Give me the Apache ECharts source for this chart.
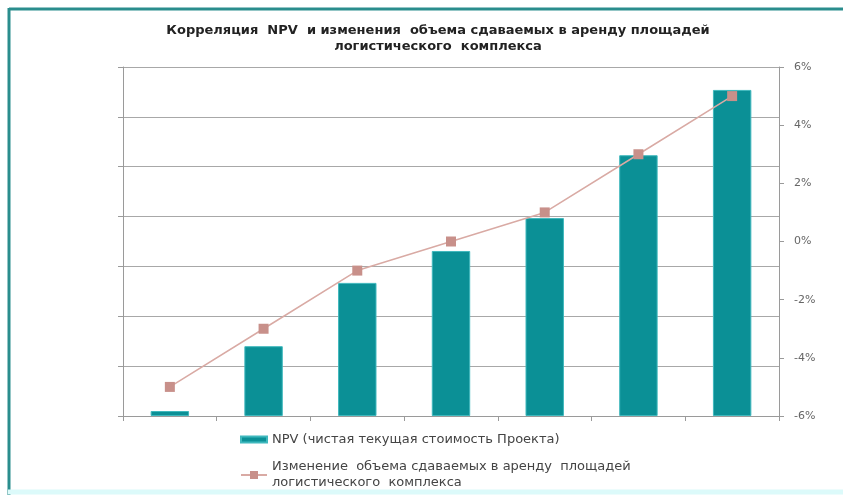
<!DOCTYPE html>
<html>
<head>
<meta charset="utf-8">
<script src="https://cdn.jsdelivr.net/npm/echarts@6/dist/echarts.min.js"></script>
<style>
html,body{margin:0;padding:0;background:#fff;}
#c{width:843px;height:495px;}
</style>
</head>
<body>
<div id="c"></div>
<script>
const categories = ['1', '2', '3', '4', '5', '6', '7'];
const npvValues = [0.1, 1.4, 2.67, 3.31, 3.97, 5.23, 6.54];
const areaChange = [-5, -3, -1, 0, 1, 3, 5];
const npvName = 'NPV (чистая текущая стоимость Проекта)';
const lineName = 'Изменение  объема сдаваемых в аренду  площадей\nлогистического  комплекса';
const titleText = 'Корреляция  NPV  и изменения  объема сдаваемых в аренду площадей\nлогистического  комплекса';

const chart = echarts.init(document.getElementById('c'));
chart.setOption({
  animation: false,
  backgroundColor: '#ffffff',
  textStyle: { fontFamily: 'DejaVu Sans' },
  title: {
    text: titleText,
    left: 433,
    textAlign: 'center',
    top: 18,
    textStyle: { fontSize: 13, fontWeight: 'bold', color: '#222', lineHeight: 16, fontFamily: 'DejaVu Sans' }
  },
  grid: { left: 123, right: 64, top: 67, bottom: 79 },
  legend: [
    {
      orient: 'vertical', left: 235, top: 428,
      data: [{ name: npvName, icon: 'rect' }],
      itemWidth: 26, itemHeight: 6, itemGap: 10,
      textStyle: { fontSize: 13, color: '#444', fontFamily: 'DejaVu Sans' }
    },
    {
      orient: 'vertical', left: 235, top: 454,
      data: [{ name: lineName }],
      itemWidth: 26, itemHeight: 10,
      textStyle: { fontSize: 13, color: '#444', lineHeight: 16, fontFamily: 'DejaVu Sans' }
    }
  ],
  xAxis: {
    type: 'category',
    data: categories,
    boundaryGap: true,
    axisLine: { lineStyle: { color: '#9a9a9a' } },
    axisTick: { show: true, alignWithLabel: false, length: 5, lineStyle: { color: '#9a9a9a' } },
    axisLabel: { show: false }
  },
  yAxis: [
    {
      type: 'value', min: 0, max: 7, interval: 1,
      position: 'left',
      axisLine: { show: true, lineStyle: { color: '#9a9a9a' } },
      axisTick: { show: true, length: 5, lineStyle: { color: '#9a9a9a' } },
      axisLabel: { show: false },
      splitLine: { show: true, lineStyle: { color: '#a8a8a8', width: 1 } }
    },
    {
      type: 'value', min: -6, max: 6, interval: 2,
      position: 'right',
      axisLine: { show: true, lineStyle: { color: '#9a9a9a' } },
      axisTick: { show: true, inside: false, length: 5, lineStyle: { color: '#9a9a9a' } },
      axisLabel: { formatter: '{value}%', color: '#666', fontSize: 11, margin: 15, fontFamily: 'DejaVu Sans' },
      splitLine: { show: false }
    }
  ],
  series: [
    {
      name: npvName,
      type: 'bar',
      yAxisIndex: 0,
      data: npvValues,
      barWidth: '41%',
      itemStyle: { color: '#0b9096', borderColor: '#3fb8bd', borderWidth: 1 }
    },
    {
      name: lineName,
      type: 'line',
      yAxisIndex: 1,
      data: areaChange,
      symbol: 'rect',
      symbolSize: 10,
      lineStyle: { color: '#d9aaa4', width: 1.5 },
      itemStyle: { color: '#c8908a' },
      z: 5
    }
  ],
  graphic: [
    { type: 'line', shape: { x1: 9, y1: 9, x2: 843, y2: 9 }, style: { stroke: '#2a8d8d', lineWidth: 3 } },
    { type: 'line', shape: { x1: 9, y1: 8, x2: 9, y2: 495 }, style: { stroke: '#2a8d8d', lineWidth: 3 } },
    { type: 'line', shape: { x1: 8, y1: 492, x2: 843, y2: 492 }, style: { stroke: '#dcfafa', lineWidth: 5 } }
  ]
});
</script>
</body>
</html>
